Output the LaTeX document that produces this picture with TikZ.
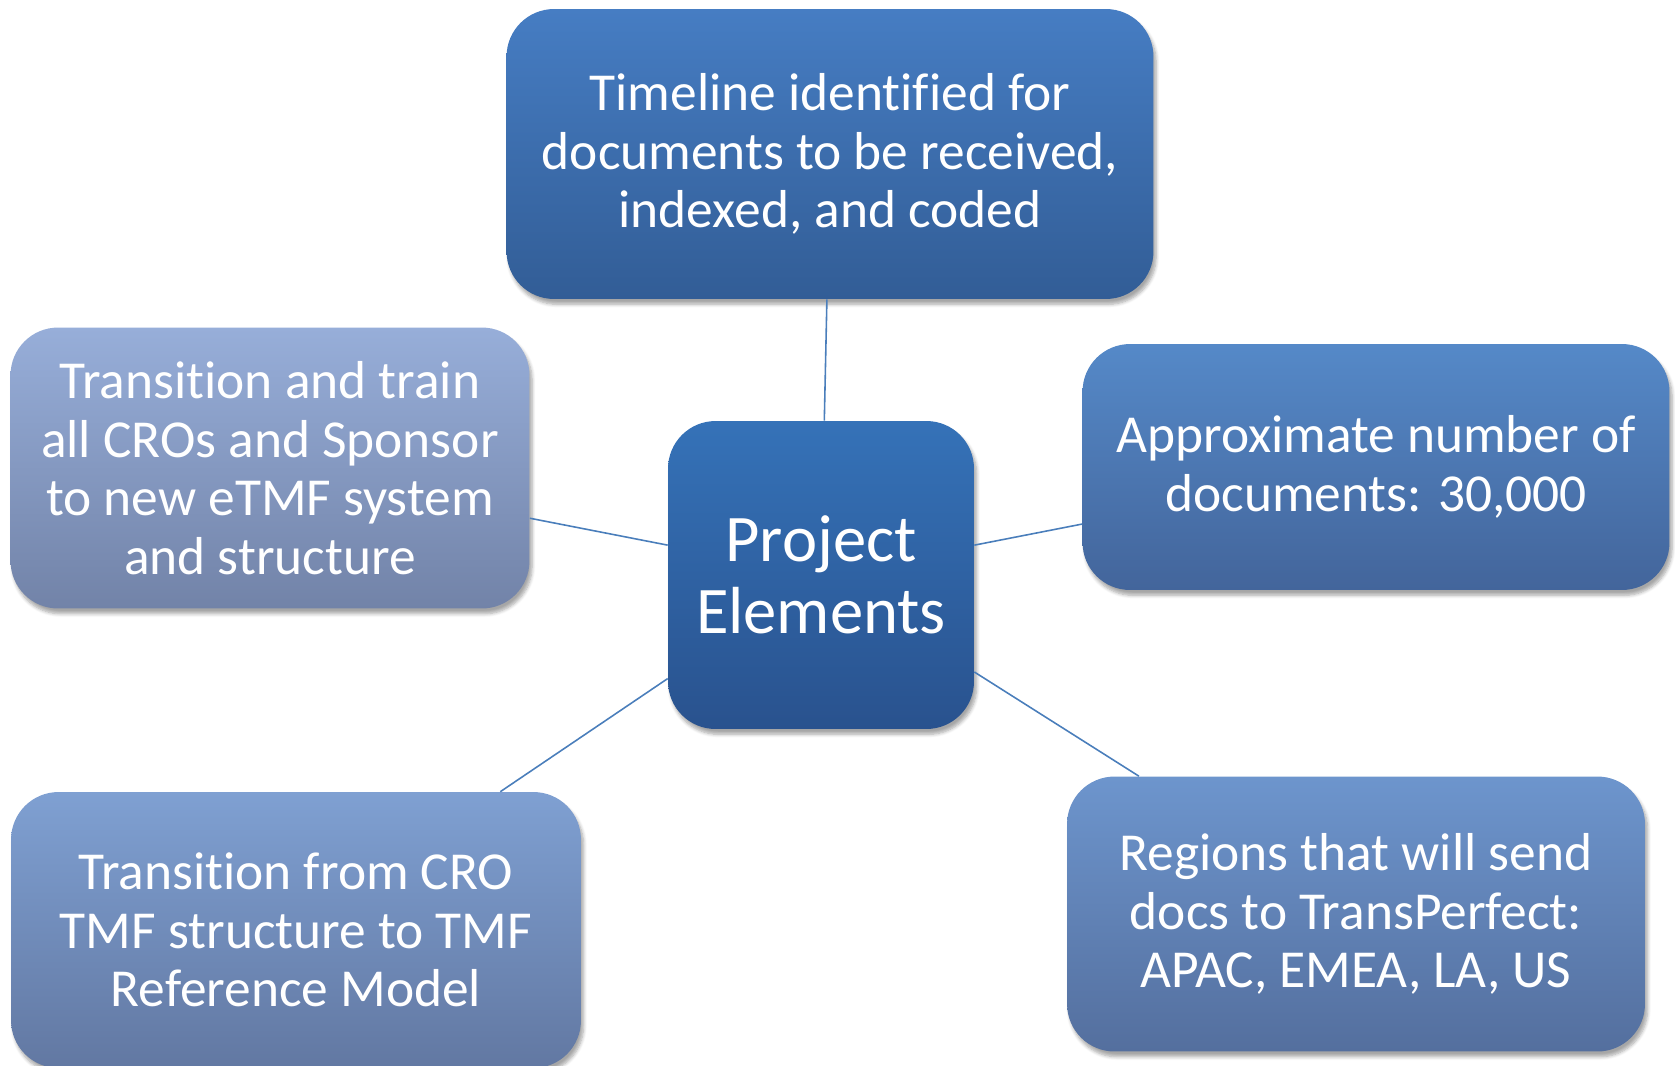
\documentclass[tikz,border=0pt]{standalone}
\usepackage{fontspec}
\setmainfont{Carlito}[Ligatures={NoCommon}]
\usetikzlibrary{shadows.blur}
\definecolor{linkblue}{RGB}{74,126,187}
\begin{document}
\begin{tikzpicture}[x=0.02cm,y=-0.02cm,
  box/.style={rounded corners=0.95cm, align=center, text=white, inner sep=0pt,
    font=\fontsize{30.4}{33.4}\selectfont,
    blur shadow={shadow xshift=1.5pt, shadow yshift=-3pt, shadow blur steps=6, shadow opacity=35}},
  link/.style={draw=linkblue, line width=0.9pt}]
  \clip (0,0) rectangle (1675,1065);
  % Centre box
  \node[box, minimum width=6.12cm, minimum height=6.16cm,
    top color={rgb,255:red,53;green,114;blue,184}, bottom color={rgb,255:red,41;green,82;blue,142},
    font=\fontsize{37.9}{40.7}\selectfont] (ctr) at (821,575) {Project\\Elements};
  % Outer boxes
  \node[box, minimum width=12.94cm, minimum height=5.8cm,
    top color={rgb,255:red,70;green,125;blue,195}, bottom color={rgb,255:red,50;green,93;blue,150}]
    (timeline) at (830,154) {Timeline identified for\\documents to be received,\\indexed, and coded};
  \node[box, minimum width=10.38cm, minimum height=5.62cm,
    top color={rgb,255:red,151;green,174;blue,217}, bottom color={rgb,255:red,114;green,131;blue,168}]
    (train) at (270,468) {Transition and train\\all CROs and Sponsor\\to new eTMF system\\and structure};
  \node[box, minimum width=11.74cm, minimum height=4.92cm,
    top color={rgb,255:red,85;green,137;blue,200}, bottom color={rgb,255:red,67;green,101;blue,155}]
    (count) at (1376,467) {Approximate number of\\documents: 30,000};
  \node[box, minimum width=11.4cm, minimum height=5.52cm,
    top color={rgb,255:red,127;green,160;blue,210}, bottom color={rgb,255:red,98;green,120;blue,162}]
    (model) at (296,930) {Transition from CRO\\TMF structure to TMF\\Reference Model};
  \node[box, minimum width=11.56cm, minimum height=5.5cm,
    top color={rgb,255:red,109;green,149;blue,205}, bottom color={rgb,255:red,84;green,111;blue,158}]
    (regions) at (1356,914) {Regions that will send\\docs to TransPerfect:\\APAC, EMEA, LA, US};
  % Links from the centre
  \foreach \n in {timeline,train,count,model,regions}
    \draw[link] (ctr) -- (\n);
\end{tikzpicture}
\end{document}
